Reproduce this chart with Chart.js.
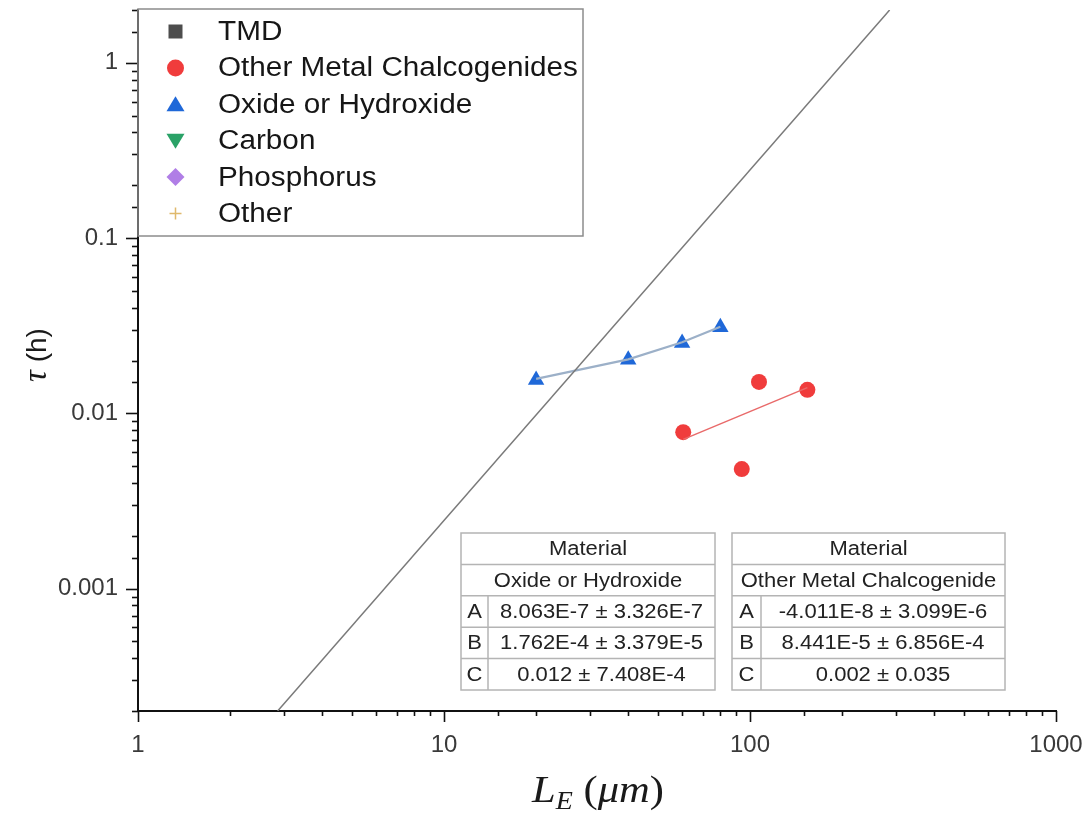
<!DOCTYPE html>
<html>
<head>
<meta charset="utf-8">
<script src="https://cdn.jsdelivr.net/npm/chart.js@4.4.0/dist/chart.umd.min.js"></script>
<style>
  html, body { margin: 0; padding: 0; background: #fff; }
  #grafica { display: block; }
</style>
</head>
<body>
<canvas id="grafica" width="1089" height="814"></canvas>
<script>
// Datos
const oxidoL = [20, 40, 60, 80];
const oxidoTau = [0.0155, 0.0202, 0.0252, 0.031];
const oxidoAjusteL = [20, 40, 60, 80];
const oxidoAjusteTau = [0.0157, 0.0203, 0.0254, 0.0312];
const calcoL = [60.5, 107, 94, 154];
const calcoTau = [0.0078, 0.0151, 0.0048, 0.0136];
const calcoAjusteL = [60.5, 154];
const calcoAjusteTau = [0.0071, 0.0140];
const limiteL = [2.86, 286];
const limiteTau = [0.0002, 2];
const ticksX = [1, 10, 100, 1000];
const ticksY = [0.001, 0.01, 0.1, 1];
const leyendaNombres = ["TMD", "Other Metal Chalcogenides", "Oxide or Hydroxide", "Carbon", "Phosphorus", "Other"];
const leyendaColores = ["#4d4d4d", "#f03c3c", "#1f68d8", "#2aa267", "#b07ee6", "#dfb96c"];
const leyendaSimbolos = ["cuadrado", "circulo", "triangulo", "trianguloInv", "rombo", "cruz"];
const parametros = ["A", "B", "C"];
const tablaOxido = ["Material", "Oxide or Hydroxide", "8.063E-7 ± 3.326E-7", "1.762E-4 ± 3.379E-5", "0.012 ± 7.408E-4"];
const tablaCalco = ["Material", "Other Metal Chalcogenide", "-4.011E-8 ± 3.099E-6", "8.441E-5 ± 6.856E-4", "0.002 ± 0.035"];

const $grafica = document.querySelector("#grafica");
const puntos = (xs, ys) => xs.map((x, i) => ({ x: x, y: ys[i] }));
const esPotencia = (v) => Math.abs(Math.log10(v) - Math.round(Math.log10(v))) < 1e-6;
const SANS = "'Liberation Sans', Arial, sans-serif";
const SERIF = "'Liberation Serif', 'Times New Roman', serif";

function textoEstirado(ctx, texto, x, y, sx, alinear) {
  const ancho = ctx.measureText(texto).width * sx;
  let x0 = x;
  if (alinear === "center") x0 = x - ancho / 2;
  if (alinear === "right") x0 = x - ancho;
  ctx.save();
  ctx.translate(x0, y);
  ctx.scale(sx, 1);
  ctx.textAlign = "left";
  ctx.fillText(texto, 0, 0);
  ctx.restore();
  return ancho;
}

function simbolo(ctx, tipo, x, y, color) {
  ctx.save();
  ctx.fillStyle = color;
  ctx.strokeStyle = color;
  ctx.beginPath();
  if (tipo === "cuadrado") {
    ctx.rect(x - 7, y - 7, 14, 14);
    ctx.fill();
  } else if (tipo === "circulo") {
    ctx.arc(x, y, 8.5, 0, Math.PI * 2);
    ctx.fill();
  } else if (tipo === "triangulo") {
    ctx.moveTo(x, y - 8);
    ctx.lineTo(x + 9, y + 7);
    ctx.lineTo(x - 9, y + 7);
    ctx.closePath();
    ctx.fill();
  } else if (tipo === "trianguloInv") {
    ctx.moveTo(x, y + 8);
    ctx.lineTo(x + 9, y - 7);
    ctx.lineTo(x - 9, y - 7);
    ctx.closePath();
    ctx.fill();
  } else if (tipo === "rombo") {
    ctx.moveTo(x, y - 9);
    ctx.lineTo(x + 9, y);
    ctx.lineTo(x, y + 9);
    ctx.lineTo(x - 9, y);
    ctx.closePath();
    ctx.fill();
  } else {
    ctx.lineWidth = 1.5;
    ctx.moveTo(x - 6, y);
    ctx.lineTo(x + 6, y);
    ctx.moveTo(x, y - 6);
    ctx.lineTo(x, y + 6);
    ctx.stroke();
  }
  ctx.restore();
}

function dibujarLeyenda(ctx, x0, y0) {
  ctx.save();
  ctx.fillStyle = "#fff";
  ctx.fillRect(x0 + 1, y0 - 1, 444, 227);
  ctx.strokeStyle = "#8c8c8c";
  ctx.lineWidth = 1.5;
  ctx.strokeRect(x0, y0 - 1, 445, 227);
  ctx.font = "27px " + SANS;
  ctx.textBaseline = "middle";
  leyendaNombres.forEach((nombre, i) => {
    const yy = y0 + 21.5 + i * 36.4;
    simbolo(ctx, leyendaSimbolos[i], x0 + 37.5, yy, leyendaColores[i]);
    ctx.fillStyle = "#161616";
    textoEstirado(ctx, nombre, x0 + 80, yy + 1, 1.1, "left");
  });
  ctx.restore();
}

function dibujarTabla(ctx, x, y, ancho, anchoCol, filas) {
  const alto = 31.4;
  ctx.save();
  ctx.fillStyle = "#fff";
  ctx.fillRect(x, y, ancho, alto * 5);
  ctx.strokeStyle = "#b4b4b4";
  ctx.lineWidth = 1.5;
  ctx.strokeRect(x, y, ancho, alto * 5);
  for (let i = 1; i < 5; i++) {
    ctx.beginPath();
    ctx.moveTo(x, y + alto * i);
    ctx.lineTo(x + ancho, y + alto * i);
    ctx.stroke();
  }
  ctx.beginPath();
  ctx.moveTo(x + anchoCol, y + alto * 2);
  ctx.lineTo(x + anchoCol, y + alto * 5);
  ctx.stroke();
  ctx.fillStyle = "#222";
  ctx.font = "20px " + SANS;
  ctx.textBaseline = "middle";
  textoEstirado(ctx, filas[0], x + ancho / 2, y + alto * 0.5 + 1, 1.1, "center");
  textoEstirado(ctx, filas[1], x + ancho / 2, y + alto * 1.5 + 1, 1.1, "center");
  for (let i = 0; i < 3; i++) {
    const yy = y + alto * (2.5 + i) + 1;
    textoEstirado(ctx, parametros[i], x + anchoCol / 2, yy, 1.1, "center");
    textoEstirado(ctx, filas[2 + i], x + anchoCol + (ancho - anchoCol) / 2, yy, 1.1, "center");
  }
  ctx.restore();
}

function dibujarMarcas(ctx, escalaX, escalaY, izq, abajo) {
  ctx.save();
  ctx.strokeStyle = "#111";
  ctx.lineWidth = 1.6;
  escalaX.ticks.forEach((t) => {
    const px = Math.round(escalaX.getPixelForValue(t.value)) + 0.5;
    const largo = esPotencia(t.value) ? 11 : 5;
    ctx.beginPath();
    ctx.moveTo(px, abajo);
    ctx.lineTo(px, abajo + largo);
    ctx.stroke();
  });
  escalaY.ticks.forEach((t) => {
    const py = Math.round(escalaY.getPixelForValue(t.value)) + 0.5;
    const largo = esPotencia(t.value) ? 12 : 6;
    ctx.beginPath();
    ctx.moveTo(izq, py);
    ctx.lineTo(izq - largo, py);
    ctx.stroke();
  });
  ctx.restore();
}

function dibujarTitulos(ctx) {
  ctx.save();
  ctx.fillStyle = "#1a1a1a";
  ctx.textBaseline = "alphabetic";
  // titulo eje X: L_E (μm)
  const partes = [
    { t: "L", f: "italic 38px " + SERIF, dy: 0 },
    { t: "E", f: "italic 25px " + SERIF, dy: 7 },
    { t: " (", f: "38px " + SERIF, dy: 0 },
    { t: "μm", f: "italic 38px " + SERIF, dy: 0 },
    { t: ")", f: "38px " + SERIF, dy: 0 }
  ];
  const sx = 1.12;
  let total = 0;
  partes.forEach((p) => { ctx.font = p.f; p.w = ctx.measureText(p.t).width * sx; total += p.w; });
  let xx = 598 - total / 2;
  partes.forEach((p) => { ctx.font = p.f; textoEstirado(ctx, p.t, xx, 802 + p.dy, sx, "left"); xx += p.w; });
  // titulo eje Y: τ (h)
  ctx.translate(46, 355);
  ctx.rotate(-Math.PI / 2);
  ctx.font = "italic 33px " + SERIF;
  const wTau = ctx.measureText("τ").width;
  ctx.font = "28px " + SANS;
  const wH = ctx.measureText(" (h)").width;
  const x0 = -(wTau + wH) / 2;
  ctx.font = "italic 33px " + SERIF;
  ctx.fillText("τ", x0, 0);
  ctx.font = "28px " + SANS;
  ctx.fillText(" (h)", x0 + wTau, 0);
  ctx.restore();
}

const pluginDecoracion = {
  id: "decoracion",
  afterDraw(chart) {
    const ctx = chart.ctx;
    const area = chart.chartArea;
    dibujarMarcas(ctx, chart.scales.x, chart.scales.y, area.left, area.bottom);
    dibujarTabla(ctx, 461, 533, 254, 27, tablaOxido);
    dibujarTabla(ctx, 732, 533, 273, 29, tablaCalco);
    dibujarLeyenda(ctx, area.left, area.top);
    dibujarTitulos(ctx);
  }
};

new Chart($grafica, {
  type: "scatter",
  data: {
    datasets: [
      {
        label: "Limite",
        data: puntos(limiteL, limiteTau),
        showLine: true,
        borderColor: "#7a7a7a",
        borderWidth: 1.5,
        pointRadius: 0
      },
      {
        label: "Ajuste Oxide or Hydroxide",
        data: puntos(oxidoAjusteL, oxidoAjusteTau),
        showLine: true,
        borderColor: "#9cb0c8",
        borderWidth: 2.2,
        pointRadius: 0
      },
      {
        label: "Ajuste Other Metal Chalcogenides",
        data: puntos(calcoAjusteL, calcoAjusteTau),
        showLine: true,
        borderColor: "#e96a6a",
        borderWidth: 1.5,
        pointRadius: 0
      },
      {
        label: "Oxide or Hydroxide",
        data: puntos(oxidoL, oxidoTau),
        pointStyle: "triangle",
        pointRadius: 9.5,
        backgroundColor: "#1f68d8",
        borderColor: "#1f68d8",
        borderWidth: 0
      },
      {
        label: "Other Metal Chalcogenides",
        data: puntos(calcoL, calcoTau),
        pointStyle: "circle",
        pointRadius: 8,
        backgroundColor: "#f03c3c",
        borderColor: "#f03c3c",
        borderWidth: 0
      }
    ]
  },
  options: {
    responsive: false,
    devicePixelRatio: 1,
    animation: false,
    layout: { padding: { top: 10, right: 33, left: 0, bottom: 0 } },
    scales: {
      x: {
        type: "logarithmic",
        min: 1,
        max: 1000,
        afterFit(escala) {
          escala.height = 103;
          escala.paddingLeft = 0;
          escala.paddingRight = 0;
        },
        grid: { display: false, drawTicks: false },
        border: { display: true, color: "#111", width: 2 },
        ticks: {
          autoSkip: false,
          maxRotation: 0,
          padding: 20,
          color: "#3a3a3a",
          font: { family: SANS, size: 24 },
          callback: (v) => (ticksX.some((t) => Math.abs(t - v) < 1e-9 * t) ? String(v) : "")
        }
      },
      y: {
        type: "logarithmic",
        min: 0.0002,
        max: 2,
        afterFit(escala) {
          escala.width = 138;
          escala.paddingTop = 0;
          escala.paddingBottom = 0;
        },
        grid: { display: false, drawTicks: false },
        border: { display: true, color: "#111", width: 2 },
        ticks: {
          autoSkip: false,
          padding: 20,
          color: "#3a3a3a",
          font: { family: SANS, size: 24 },
          callback: (v) => {
            const t = ticksY.find((k) => Math.abs(k - v) < 1e-6 * k);
            return t ? String(t) : "";
          }
        }
      }
    },
    plugins: {
      legend: { display: false },
      tooltip: { enabled: false }
    }
  },
  plugins: [pluginDecoracion]
});
</script>
</body>
</html>
